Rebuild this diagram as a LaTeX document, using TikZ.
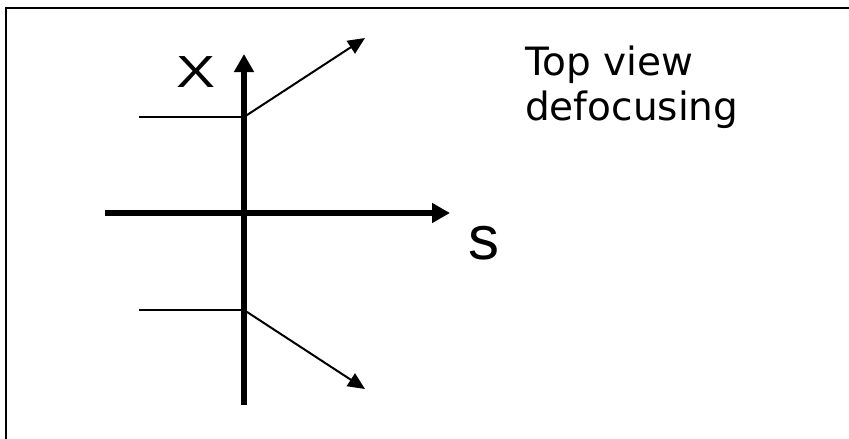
\documentclass[tikz,border=0pt]{standalone}
\usepackage{fontspec}
\usepackage{tikz}
\usetikzlibrary{arrows.meta,positioning}
\newfontfamily\axisfont{Liberation Sans}
\newfontfamily\notefont{DejaVu Sans}

\begin{document}
\begin{tikzpicture}[x=1pt,y=-1pt,axis/.style={line width=5.5pt,-{Triangle[length=18pt,width=19pt]}},beam/.style={line width=2pt},ray/.style={line width=2pt,-{Triangle[length=17pt,width=15pt]}},axislabel/.style={font=\axisfont\fontsize{45}{50}\selectfont,inner sep=0pt}]
\useasboundingbox (0,0) rectangle (849,439);
\draw[line width=2.5pt] (6,439) -- (6,8) -- (849,8);
\coordinate (origin) at (244,213);
\coordinate (xbottom) at (244,405);
\coordinate (xtip) at (244,54);
\coordinate (sleft) at (105,213);
\coordinate (stip) at (450,213);
\coordinate (upperin) at (139,117);
\coordinate (upperlens) at (244,117);
\coordinate (upperout) at (365,38);
\coordinate (lowerin) at (139,310);
\coordinate (lowerlens) at (244,310);
\coordinate (lowerout) at (365,389);
\draw[axis] (xbottom) -- (xtip);
\draw[axis] (sleft) -- (stip);
\draw[beam] (upperin) -- (upperlens);
\draw[ray] (upperlens) -- (upperout);
\draw[beam] (lowerin) -- (lowerlens);
\draw[ray] (lowerlens) -- (lowerout);
\node[axislabel] (xlabel) at (196,72) {\scalebox{1.3}[1]{X}};
\node[axislabel,font=\axisfont\fontsize{62}{66}\selectfont] (slabel) at (484,243) {s};
\node[anchor=base west,inner sep=0pt,align=left,font=\notefont\fontsize{39}{45}\selectfont] (title) at (525,120) {Top view\\defocusing};
\end{tikzpicture}
\end{document}
